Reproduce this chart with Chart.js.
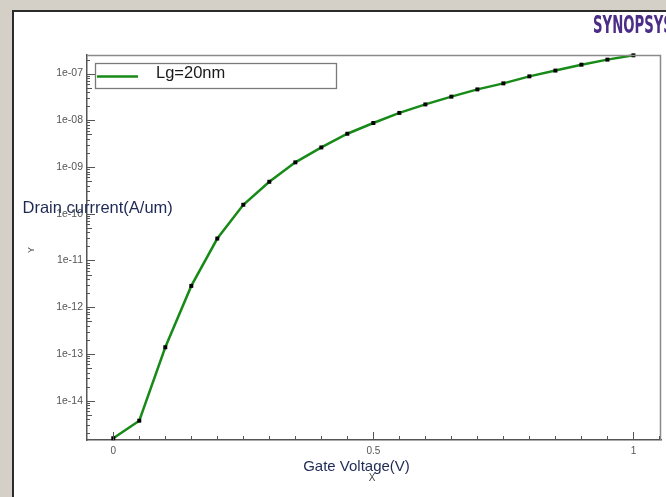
<!DOCTYPE html>
<html>
<head>
<meta charset="utf-8">
<script src="https://cdn.jsdelivr.net/npm/chart.js@4"></script>
<style>
  html, body { margin: 0; padding: 0; background: #d4d0c8; }
  #wrap { position: relative; width: 666px; height: 497px; }
</style>
</head>
<body>
<div id="wrap"><canvas id="myChart" width="666" height="497"></canvas></div>
<script>
// gate voltage sweep (V)
const gateVoltage = [0, 0.05, 0.1, 0.15, 0.2, 0.25, 0.3, 0.35, 0.4, 0.45, 0.5,
  0.55, 0.6, 0.65, 0.7, 0.75, 0.8, 0.85, 0.9, 0.95, 1.0];
// drain current (A/um)
const drainCurrent = [1.57e-15, 3.73e-15, 1.39e-13, 2.86e-12, 2.95e-11, 1.56e-10,
  4.84e-10, 1.26e-9, 2.63e-9, 5.16e-9, 8.77e-9, 1.44e-8, 2.19e-8, 3.21e-8,
  4.59e-8, 6.18e-8, 8.73e-8, 1.16e-7, 1.55e-7, 1.99e-7, 2.46e-7];
const seriesLabel = "Lg=20nm";
const yTickValues = [1e-14, 1e-13, 1e-12, 1e-11, 1e-10, 1e-9, 1e-8, 1e-7];
const xTickValues = [0, 0.5, 1];
const xTitle = "Gate Voltage(V)";
const yTitle = "Drain currrent(A/um)";

const W = 666, H = 497;
const green = "#178a17";

const fmtExp = (v) => {
  const e = Math.round(Math.log10(v));
  return "1e-" + String(-e).padStart(2, "0");
};

// window frame + logo
const framePlugin = {
  id: "frame",
  beforeDraw(chart) {
    const c = chart.ctx;
    c.save();
    c.fillStyle = "#d4d0c8";
    c.fillRect(0, 0, W, H);
    c.fillStyle = "#ffffff";
    c.fillRect(12, 10, W - 12, H - 10);
    c.fillStyle = "#2b2b2b";
    c.fillRect(12, 10, W - 12, 2);
    c.fillRect(12, 10, 2, H - 10);
    // logo
    c.fillStyle = "#4b2c86";
    c.font = "bold 25px 'DejaVu Sans'";
    c.textBaseline = "alphabetic";
    c.translate(593, 33);
    c.scale(0.53, 1);
    c.fillText("SYNOPSYS", 0, 0);
    c.restore();
  },
};

// inside tick marks, plot border, legend box, axis titles
const decoPlugin = {
  id: "deco",
  afterDraw(chart) {
    const c = chart.ctx;
    const { left, right, top, bottom } = chart.chartArea;
    const xs = chart.scales.x, ys = chart.scales.y;
    c.save();
    // top and right border
    c.strokeStyle = "#8a8a8a";
    c.lineWidth = 1.5;
    c.beginPath();
    c.moveTo(left, top + 0.5);
    c.lineTo(right - 0.5, top + 0.5);
    c.lineTo(right - 0.5, bottom);
    c.stroke();

    // y ticks (log, inside)
    c.strokeStyle = "#555";
    c.lineWidth = 1;
    c.beginPath();
    for (let d = -16; d <= -6; d++) {
      for (let m = 1; m <= 9; m++) {
        const v = m * Math.pow(10, d);
        if (v < ys.min || v > ys.max) continue;
        const py = Math.round(ys.getPixelForValue(v)) + 0.5;
        const len = m === 1 ? 8 : (m === 5 ? 5 : 3);
        c.moveTo(left, py);
        c.lineTo(left + len, py);
      }
    }
    // x ticks (inside)
    for (let i = 0; i <= 21; i++) {
      const v = i * 0.05;
      if (v > xs.max) continue;
      const px = Math.round(xs.getPixelForValue(v)) + 0.5;
      const len = (i % 10 === 0) ? 8 : 4;
      c.moveTo(px, bottom);
      c.lineTo(px, bottom - len);
    }
    c.stroke();

    // legend
    c.fillStyle = "#fff";
    c.fillRect(95.5, 63.5, 241, 25);
    c.strokeStyle = "#7a7a7a";
    c.lineWidth = 1.3;
    c.strokeRect(95.5, 63.5, 241, 25);
    c.strokeStyle = green;
    c.lineWidth = 2.5;
    c.beginPath();
    c.moveTo(97, 76.5);
    c.lineTo(138, 76.5);
    c.stroke();
    c.fillStyle = "#1a1a1a";
    c.font = "16.5px 'Liberation Sans'";
    c.textBaseline = "alphabetic";
    c.textAlign = "left";
    c.fillText(chart.data.datasets[0].label, 156, 78);

    // axis titles
    c.fillStyle = "#1e2a55";
    c.font = "16.5px 'Liberation Sans'";
    c.fillText(yTitle, 22.5, 213);
    c.textAlign = "center";
    c.font = "15px 'Liberation Sans'";
    c.fillText(xTitle, 356.5, 470.5);
    c.fillStyle = "#444";
    c.font = "10px 'Liberation Sans'";
    c.fillText("X", 372, 481);
    c.translate(31.5, 250);
    c.rotate(-Math.PI / 2);
    c.font = "9px 'Liberation Sans'";
    c.textBaseline = "middle";
    c.fillText("Y", 0, 0);
    c.restore();
  },
};

const ctx = document.querySelector("#myChart").getContext("2d");

const data = {
  datasets: [
    {
      label: seriesLabel,
      data: gateVoltage.map((v, i) => ({ x: v, y: drainCurrent[i] })),
      borderColor: green,
      borderWidth: 2.5,
      pointStyle: "rect",
      pointRadius: 2.8,
      pointBorderWidth: 0,
      pointBackgroundColor: "#000",
      pointBorderColor: "#000",
      tension: 0,
      clip: false,
    },
  ],
};

const config = {
  type: "line",
  data: data,
  plugins: [framePlugin, decoPlugin],
  options: {
    responsive: false,
    animation: false,
    layout: { padding: { top: 55, right: 5, left: 0, bottom: 0 } },
    scales: {
      x: {
        type: "linear",
        min: -0.0505,
        max: 1.053,
        afterBuildTicks: (s) => {
          s.ticks = xTickValues.map((v) => ({ value: v }));
        },
        afterFit: (s) => {
          s.height = 57;
        },
        ticks: {
          color: "#555",
          padding: 5,
          maxRotation: 0,
          font: { family: "Liberation Sans", size: 10 },
          callback: (v) => String(v),
        },
        grid: { display: true, drawOnChartArea: false, drawTicks: false },
        border: { color: "#555", width: 1.5 },
      },
      y: {
        type: "logarithmic",
        min: 1.44e-15,
        max: 2.5e-7,
        afterBuildTicks: (s) => {
          s.ticks = yTickValues.map((v) => ({ value: v }));
        },
        afterFit: (s) => {
          s.width = 87;
        },
        ticks: {
          color: "#555",
          padding: 4,
          font: { family: "Liberation Sans", size: 10.5 },
          callback: (v) => fmtExp(v),
        },
        grid: { display: true, drawOnChartArea: false, drawTicks: false },
        border: { color: "#555", width: 1.5 },
      },
    },
    plugins: {
      legend: { display: false },
      tooltip: { enabled: false },
    },
  },
};

const myChart = new Chart(ctx, config);
</script>
</body>
</html>
